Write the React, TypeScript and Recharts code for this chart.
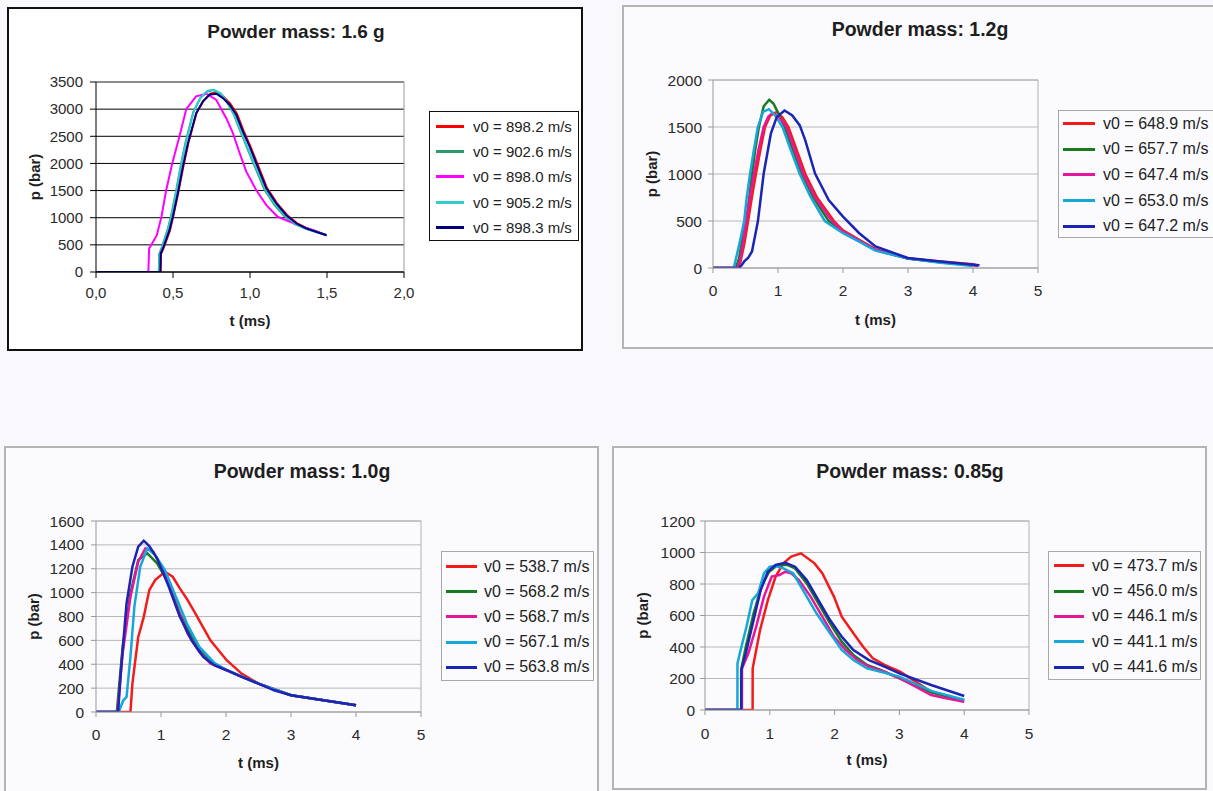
import React from "react";
import { LineChart, Line, XAxis, YAxis, CartesianGrid, ReferenceLine, Label } from "recharts";

type Pt = [number, number];

// ---- Powder mass 1.6 g ----
const M16_LABELS = ["v0 = 898.2 m/s", "v0 = 902.6 m/s", "v0 = 898.0 m/s", "v0 = 905.2 m/s", "v0 = 898.3 m/s"];
const M16_COLORS = ["#ff0000", "#2f9a6c", "#ff00ff", "#33cccc", "#000080"];
const M16_X_TICKS = [0, 0.5, 1, 1.5, 2];
const M16_Y_TICKS = [0, 500, 1000, 1500, 2000, 2500, 3000, 3500];

const M16_RED: Pt[] = [[0, 0], [0.42, 0], [0.422, 330], [0.44, 450], [0.48, 760], [0.5, 1010], [0.533, 1440], [0.567, 1940], [0.6, 2380], [0.653, 2930], [0.697, 3150], [0.742, 3285], [0.782, 3310], [0.827, 3230], [0.872, 3100], [0.916, 2910], [0.96, 2590], [1.002, 2320], [1.046, 2010], [1.11, 1550], [1.175, 1270], [1.24, 1050], [1.304, 900], [1.37, 805], [1.497, 678]];
const M16_GREEN: Pt[] = [[0, 0], [0.408, 0], [0.41, 330], [0.428, 460], [0.465, 780], [0.487, 1030], [0.518, 1460], [0.55, 1960], [0.582, 2400], [0.632, 2950], [0.676, 3200], [0.72, 3320], [0.76, 3350], [0.805, 3290], [0.85, 3130], [0.895, 2900], [0.94, 2570], [0.985, 2260], [1.03, 1950], [1.095, 1510], [1.16, 1230], [1.225, 1020], [1.29, 880], [1.36, 800], [1.497, 678]];
const M16_MAGENTA: Pt[] = [[0, 0], [0.34, 0], [0.345, 431], [0.395, 678], [0.425, 1017], [0.456, 1510], [0.495, 2000], [0.542, 2500], [0.586, 3000], [0.65, 3235], [0.716, 3284], [0.78, 3173], [0.846, 2834], [0.889, 2557], [0.933, 2187], [0.976, 1848], [1.04, 1510], [1.106, 1232], [1.18, 1017], [1.26, 924], [1.345, 832], [1.42, 760], [1.497, 678]];
const M16_CYAN: Pt[] = [[0, 0], [0.41, 0], [0.412, 320], [0.43, 450], [0.466, 760], [0.488, 1010], [0.519, 1440], [0.551, 1940], [0.584, 2390], [0.635, 2960], [0.68, 3220], [0.725, 3340], [0.765, 3355], [0.81, 3290], [0.855, 3120], [0.9, 2880], [0.945, 2560], [0.99, 2250], [1.035, 1950], [1.1, 1520], [1.165, 1240], [1.23, 1030], [1.295, 885], [1.36, 800], [1.497, 678]];
const M16_NAVY: Pt[] = [[0, 0], [0.418, 0], [0.42, 340], [0.438, 460], [0.477, 770], [0.499, 1017], [0.531, 1448], [0.564, 1941], [0.597, 2372], [0.651, 2927], [0.694, 3142], [0.737, 3266], [0.781, 3284], [0.824, 3204], [0.868, 3081], [0.911, 2896], [0.954, 2588], [0.998, 2310], [1.041, 2002], [1.106, 1540], [1.171, 1263], [1.236, 1047], [1.302, 893], [1.367, 801], [1.497, 678]];

// ---- Powder mass 1.2 g ----
const M12_LABELS = ["v0 = 648.9 m/s", "v0 = 657.7 m/s", "v0 = 647.4 m/s", "v0 = 653.0 m/s", "v0 = 647.2 m/s"];
const M12_RED: Pt[] = [[0, 0], [0.38, 0], [0.42, 60], [0.48, 250], [0.54, 500], [0.6, 760], [0.66, 1000], [0.73, 1260], [0.8, 1500], [0.88, 1620], [0.98, 1660], [1.07, 1600], [1.16, 1500], [1.29, 1250], [1.42, 1000], [1.6, 750], [1.86, 500], [2.0, 400], [2.25, 300], [2.5, 200], [3.0, 100], [3.5, 70], [4.0, 40], [4.05, 30]];
const M12_GREEN: Pt[] = [[0, 0], [0.35, 0], [0.4, 100], [0.45, 300], [0.51, 500], [0.56, 760], [0.6, 1000], [0.65, 1260], [0.706, 1500], [0.78, 1720], [0.865, 1790], [0.93, 1750], [1.01, 1640], [1.1, 1500], [1.23, 1250], [1.365, 1000], [1.55, 740], [1.78, 500], [2.0, 380], [2.25, 285], [2.5, 190], [3.0, 100], [3.5, 60], [4.0, 30]];
const M12_MAGENTA: Pt[] = [[0, 0], [0.37, 0], [0.41, 60], [0.46, 250], [0.51, 500], [0.57, 760], [0.63, 1000], [0.7, 1260], [0.78, 1500], [0.85, 1610], [0.92, 1650], [1.02, 1600], [1.13, 1500], [1.26, 1250], [1.39, 1000], [1.57, 750], [1.83, 500], [2.0, 390], [2.25, 290], [2.5, 195], [3.0, 100], [3.5, 65], [4.0, 30], [4.08, 20]];
const M12_CYAN: Pt[] = [[0, 0], [0.32, 0], [0.36, 120], [0.42, 300], [0.48, 500], [0.52, 760], [0.57, 1000], [0.63, 1260], [0.69, 1500], [0.77, 1660], [0.86, 1690], [0.96, 1620], [1.07, 1500], [1.2, 1250], [1.335, 1000], [1.5, 760], [1.72, 500], [2.0, 370], [2.25, 280], [2.5, 185], [3.0, 100], [3.5, 55], [4.0, 20]];
const M12_BLUE: Pt[] = [[0, 0], [0.4, 0], [0.44, 30], [0.48, 70], [0.54, 106], [0.6, 176], [0.69, 494], [0.78, 1005], [0.89, 1429], [0.98, 1605], [1.1, 1675], [1.22, 1623], [1.335, 1517], [1.42, 1358], [1.57, 1005], [1.78, 723], [2.0, 547], [2.25, 370], [2.5, 229], [3.0, 106], [3.5, 70], [4.01, 35], [4.1, 30]];

// ---- Powder mass 1.0 g ----
const M10_LABELS = ["v0 = 538.7 m/s", "v0 = 568.2 m/s", "v0 = 568.7 m/s", "v0 = 567.1 m/s", "v0 = 563.8 m/s"];
const M10_RED: Pt[] = [[0, 0], [0.53, 0], [0.56, 238], [0.65, 629], [0.735, 797], [0.82, 1021], [0.91, 1105], [1.06, 1175], [1.18, 1133], [1.29, 1035], [1.41, 937], [1.53, 825], [1.76, 601], [2.01, 434], [2.24, 322], [2.5, 238], [3.0, 140], [4.0, 56]];
const M10_GREEN: Pt[] = [[0, 0], [0.32, 0], [0.41, 545], [0.53, 993], [0.65, 1273], [0.79, 1329], [0.94, 1245], [1.12, 1077], [1.29, 825], [1.47, 629], [1.65, 489], [1.82, 406], [2.01, 350], [2.5, 238], [3.0, 140], [4.0, 56]];
const M10_MAGENTA: Pt[] = [[0, 0], [0.33, 0], [0.41, 490], [0.53, 965], [0.65, 1259], [0.76, 1371], [0.88, 1343], [1.06, 1161], [1.24, 881], [1.41, 657], [1.59, 503], [1.76, 406], [2.01, 350], [2.5, 238], [3.0, 140], [4.0, 56]];
const M10_CYAN: Pt[] = [[0, 0], [0.35, 0], [0.42, 98], [0.47, 126], [0.53, 461], [0.59, 881], [0.68, 1217], [0.79, 1371], [0.91, 1315], [1.06, 1189], [1.24, 951], [1.41, 727], [1.59, 545], [1.82, 411], [2.01, 350], [2.5, 238], [3.0, 140], [4.0, 56]];
const M10_BLUE: Pt[] = [[0, 0], [0.34, 0], [0.38, 322], [0.47, 909], [0.56, 1217], [0.65, 1385], [0.735, 1435], [0.82, 1390], [0.94, 1287], [1.12, 1049], [1.29, 797], [1.47, 601], [1.65, 461], [1.82, 392], [2.01, 350], [2.24, 294], [2.5, 238], [2.74, 182], [3.0, 140], [4.0, 56]];

// ---- Powder mass 0.85 g ----
const M085_LABELS = ["v0 = 473.7 m/s", "v0 = 456.0 m/s", "v0 = 446.1 m/s", "v0 = 441.1 m/s", "v0 = 441.6 m/s"];
const M085_RED: Pt[] = [[0, 0], [0.735, 0], [0.736, 265], [0.85, 508], [0.97, 698], [1.09, 847], [1.21, 931], [1.33, 974], [1.48, 995], [1.69, 931], [1.81, 868], [1.99, 720], [2.11, 593], [2.29, 487], [2.44, 402], [2.59, 328], [2.77, 286], [3.01, 243], [3.25, 180], [3.49, 116], [3.72, 89], [4.0, 53]];
const M085_GREEN: Pt[] = [[0, 0], [0.56, 0], [0.561, 265], [0.63, 402], [0.75, 614], [0.87, 783], [0.99, 878], [1.12, 921], [1.27, 921], [1.39, 899], [1.57, 804], [1.75, 677], [1.93, 550], [2.11, 434], [2.29, 349], [2.5, 286], [2.71, 254], [3.0, 201], [3.5, 110], [4.0, 62]];
const M085_MAGENTA: Pt[] = [[0, 0], [0.57, 0], [0.571, 265], [0.67, 360], [0.79, 529], [0.91, 720], [1.03, 847], [1.15, 857], [1.24, 878], [1.33, 868], [1.45, 825], [1.63, 720], [1.81, 593], [1.99, 466], [2.17, 381], [2.35, 317], [2.53, 275], [2.77, 243], [3.01, 201], [3.25, 148], [3.49, 95], [3.72, 74], [4.0, 53]];
const M085_CYAN: Pt[] = [[0, 0], [0.5, 0], [0.501, 296], [0.55, 381], [0.64, 529], [0.73, 698], [0.82, 741], [0.91, 868], [1.0, 910], [1.09, 914], [1.21, 899], [1.36, 868], [1.51, 762], [1.72, 614], [1.93, 487], [2.11, 381], [2.29, 317], [2.5, 265], [3.0, 212], [3.5, 120], [4.0, 65]];
const M085_BLUE: Pt[] = [[0, 0], [0.56, 0], [0.561, 254], [0.63, 360], [0.75, 571], [0.86, 762], [0.97, 878], [1.09, 921], [1.24, 935], [1.39, 910], [1.57, 825], [1.75, 698], [1.93, 571], [2.11, 466], [2.29, 381], [2.53, 317], [2.77, 275], [3.0, 233], [3.49, 159], [4.0, 89]];

const SCAN_COLORS = ["#f21c1c", "#197a1f", "#e4179a", "#16a6d8", "#1b24b5"];
const X_TICKS_5 = [0, 1, 2, 3, 4, 5];
const M12_Y_TICKS = [0, 500, 1000, 1500, 2000];
const M10_Y_TICKS = [0, 200, 400, 600, 800, 1000, 1200, 1400, 1600];
const M085_Y_TICKS = [0, 200, 400, 600, 800, 1000, 1200];

const FONT = "'Liberation Sans', Arial, Helvetica, sans-serif";

interface PanelCfg {
  title: string;
  box: { l: number; t: number; r: number; b: number };
  border: string;
  bg: string;
  plot: { l: number; t: number; r: number; b: number };
  titleX: number;
  titleTop: number;
  titleSize: number;
  yLabelX: number;
  xLabelBase: number;
  xTicks: number[];
  yTicks: number[];
  xFmt?: (v: number) => string;
  grid: string;
  axis: string;
  frame: string;
  tickSize: number;
  yGap: number;
  xGap: number;
  lineW: number;
  series: Pt[][];
  labels: string[];
  colors: string[];
  legend: { l: number; t: number; w: number; h: number; border: string; lineOff: number; lineLen: number; textGap: number; fontSize: number; padTop: number };
}

const PANELS: PanelCfg[] = [
  {
    title: "Powder mass: 1.6 g",
    box: { l: 7, t: 7, r: 583, b: 351 }, border: "2px solid #111", bg: "#ffffff",
    plot: { l: 96, t: 82, r: 404, b: 272 },
    titleX: 296, titleTop: 22, titleSize: 19, yLabelX: 35, xLabelBase: 326,
    xTicks: M16_X_TICKS, yTicks: M16_Y_TICKS, xFmt: (v) => v.toFixed(1).replace(".", ","),
    grid: "#000000", axis: "#000000", frame: "#9a9a9a", tickSize: 6, yGap: 13, xGap: 15, lineW: 2,
    series: [M16_RED, M16_GREEN, M16_MAGENTA, M16_CYAN, M16_NAVY], labels: M16_LABELS, colors: M16_COLORS,
    legend: { l: 429, t: 111, w: 150, h: 130, border: "1px solid #111", lineOff: 7, lineLen: 28, textGap: 9, fontSize: 15, padTop: 2 },
  },
  {
    title: "Powder mass: 1.2g",
    box: { l: 622, t: 5, r: 1230, b: 349 }, border: "2px solid #b4b4b4", bg: "#fbfbfe",
    plot: { l: 713, t: 80, r: 1038, b: 268 },
    titleX: 920, titleTop: 20, titleSize: 19.5, yLabelX: 652, xLabelBase: 325,
    xTicks: X_TICKS_5, yTicks: M12_Y_TICKS,
    grid: "#b8b8b8", axis: "#999999", frame: "#b0b0b0", tickSize: 5, yGap: 11, xGap: 17, lineW: 2.5,
    series: [M12_RED, M12_GREEN, M12_MAGENTA, M12_CYAN, M12_BLUE], labels: M12_LABELS, colors: SCAN_COLORS,
    legend: { l: 1058, t: 110, w: 175, h: 128, border: "1px solid #a8a8a8", lineOff: 5, lineLen: 32, textGap: 8, fontSize: 16, padTop: 0 },
  },
  {
    title: "Powder mass: 1.0g",
    box: { l: 4, t: 446, r: 599, b: 796 }, border: "2px solid #b4b4b4", bg: "#fbfbfe",
    plot: { l: 96, t: 521, r: 421, b: 712 },
    titleX: 302, titleTop: 462, titleSize: 19.5, yLabelX: 34, xLabelBase: 768,
    xTicks: X_TICKS_5, yTicks: M10_Y_TICKS,
    grid: "#b8b8b8", axis: "#999999", frame: "#b0b0b0", tickSize: 5, yGap: 12, xGap: 17, lineW: 2.5,
    series: [M10_RED, M10_GREEN, M10_MAGENTA, M10_CYAN, M10_BLUE], labels: M10_LABELS, colors: SCAN_COLORS,
    legend: { l: 441, t: 551, w: 153, h: 130, border: "1px solid #a8a8a8", lineOff: 5, lineLen: 31, textGap: 7, fontSize: 16, padTop: 2 },
  },
  {
    title: "Powder mass: 0.85g",
    box: { l: 612, t: 446, r: 1207, b: 790 }, border: "2px solid #b4b4b4", bg: "#fbfbfe",
    plot: { l: 705, t: 521, r: 1029, b: 710 },
    titleX: 910, titleTop: 462, titleSize: 19.5, yLabelX: 643, xLabelBase: 765,
    xTicks: X_TICKS_5, yTicks: M085_Y_TICKS,
    grid: "#b8b8b8", axis: "#999999", frame: "#b0b0b0", tickSize: 5, yGap: 10, xGap: 18, lineW: 2.5,
    series: [M085_RED, M085_GREEN, M085_MAGENTA, M085_CYAN, M085_BLUE], labels: M085_LABELS, colors: SCAN_COLORS,
    legend: { l: 1048, t: 551, w: 153, h: 129, border: "1px solid #a8a8a8", lineOff: 6, lineLen: 30, textGap: 8, fontSize: 16, padTop: 1 },
  },
];

const Y_AXIS_W = 75;
const X_AXIS_H = 60;

function Panel({ cfg }: { cfg: PanelCfg }) {
  const w = cfg.box.r - cfg.box.l;
  const h = cfg.box.b - cfg.box.t;
  const xMax = cfg.xTicks[cfg.xTicks.length - 1];
  const yMax = cfg.yTicks[cfg.yTicks.length - 1];
  const mLeft = cfg.plot.l - cfg.box.l - Y_AXIS_W;
  const margin = {
    top: cfg.plot.t - cfg.box.t,
    right: cfg.box.r - cfg.plot.r,
    bottom: cfg.box.b - cfg.plot.b - X_AXIS_H,
    left: mLeft,
  };
  const tickStyle = { fontSize: cfg.titleSize > 19 ? 15.5 : 15, fill: "#2a2a2a", fontFamily: FONT };
  const labelStyle = { fontSize: 15, fontWeight: 700, fill: "#1e1e1e", fontFamily: FONT };
  const lg = cfg.legend;
  const rowH = (lg.h - lg.padTop * 2) / cfg.labels.length;

  return (
    <>
      <div
        style={{
          position: "absolute", left: cfg.box.l, top: cfg.box.t, width: w, height: h,
          boxSizing: "border-box", border: cfg.border, background: cfg.bg,
        }}
      />
      <div
        style={{
          position: "absolute", left: cfg.titleX - 200, top: cfg.titleTop, width: 400,
          textAlign: "center", fontFamily: FONT, fontWeight: 700, fontSize: cfg.titleSize,
          lineHeight: `${cfg.titleSize}px`, color: "#1e1e1e", whiteSpace: "nowrap",
        }}
      >
        {cfg.title}
      </div>
      <div style={{ position: "absolute", left: cfg.box.l, top: cfg.box.t }}>
        <LineChart width={w} height={h} margin={margin}>
          <CartesianGrid horizontal vertical={false} stroke={cfg.grid} strokeOpacity={1} />
          <XAxis
            type="number" dataKey="t" domain={[0, xMax]} ticks={cfg.xTicks} interval={0}
            allowDataOverflow tickFormatter={cfg.xFmt} height={X_AXIS_H}
            stroke={cfg.axis} tick={tickStyle} tickSize={cfg.tickSize} tickMargin={cfg.xGap - cfg.tickSize}
          >
            <Label
              value="t (ms)" position="insideBottom"
              offset={cfg.plot.b + X_AXIS_H - cfg.xLabelBase} style={labelStyle}
            />
          </XAxis>
          <YAxis
            type="number" domain={[0, yMax]} ticks={cfg.yTicks} interval={0} allowDataOverflow
            width={Y_AXIS_W} stroke={cfg.axis} tick={tickStyle}
            tickSize={cfg.tickSize} tickMargin={cfg.yGap - cfg.tickSize}
          >
            <Label
              value="p (bar)" angle={-90} position="insideLeft"
              offset={cfg.yLabelX - cfg.box.l - mLeft}
              style={{ ...labelStyle, textAnchor: "middle" }}
            />
          </YAxis>
          <ReferenceLine x={xMax} stroke={cfg.frame} strokeWidth={1} />
          <ReferenceLine y={yMax} stroke={cfg.frame} strokeWidth={1} />
          {cfg.series.map((pts, i) => (
            <Line
              key={cfg.labels[i]}
              data={pts.map(([t, p]) => ({ t, p }))}
              dataKey="p"
              name={cfg.labels[i]}
              type="linear"
              stroke={cfg.colors[i]}
              strokeWidth={cfg.lineW}
              dot={false}
              activeDot={false}
              isAnimationActive={false}
            />
          ))}
        </LineChart>
      </div>
      <div
        style={{
          position: "absolute", left: lg.l, top: lg.t, width: lg.w, height: lg.h,
          boxSizing: "border-box", border: lg.border, background: cfg.bg,
          paddingTop: lg.padTop, fontFamily: FONT, fontSize: lg.fontSize, color: "#222",
        }}
      >
        {cfg.labels.map((lab, i) => (
          <div key={lab} style={{ height: rowH, display: "flex", alignItems: "center", whiteSpace: "nowrap" }}>
            <span
              style={{
                display: "inline-block", marginLeft: lg.lineOff - 1, width: lg.lineLen, height: 3,
                background: cfg.colors[i], marginRight: lg.textGap,
              }}
            />
            <span>{lab}</span>
          </div>
        ))}
      </div>
    </>
  );
}

export default function App() {
  return (
    <div
      style={{
        position: "absolute", left: 0, top: 0, width: 1213, height: 791,
        overflow: "hidden", background: "#f9f9fd",
      }}
    >
      {PANELS.map((p) => (
        <Panel key={p.title} cfg={p} />
      ))}
    </div>
  );
}
